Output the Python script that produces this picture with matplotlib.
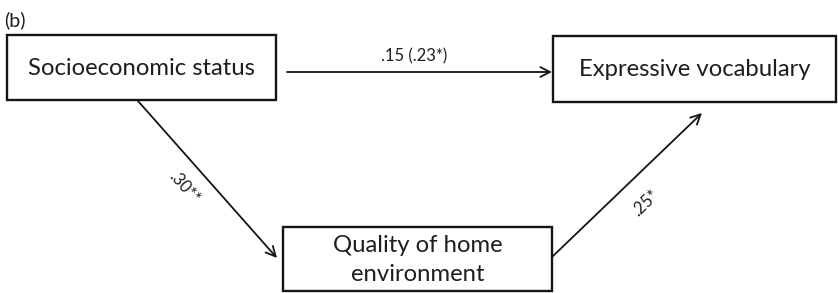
import matplotlib.pyplot as plt
from matplotlib.patches import Rectangle, FancyArrowPatch

plt.rcParams['font.family'] = ['Lato', 'DejaVu Sans']

# path diagram content
panel_label = '(b)'
node_names = ['Socioeconomic status', 'Expressive vocabulary', 'Quality of home\nenvironment']
path_coefs = ['.15 (.23*)', '.30**', '.25*']

# box layout in pixels (x0, y0, x1, y1), y going down
boxes = {
    'ses': (7, 35, 276, 100),
    'ev': (553, 36, 836, 102),
    'qhe': (283, 227, 552, 291),
}


def draw_box(ax, rect, text, fs=17.2):
    x0, y0, x1, y1 = rect
    ax.add_patch(Rectangle((x0, y0), x1 - x0, y1 - y0, fill=False,
                           edgecolor='#151515', lw=1.7))
    ax.text((x0 + x1) / 2, (y0 + y1) / 2 + 1, text, ha='center', va='center',
            fontsize=fs, color='#1e1e1e', linespacing=1.45)


def draw_arrow(ax, start, end):
    arr = FancyArrowPatch(start, end, arrowstyle='->,head_length=7,head_width=3.5',
                          lw=1.3, color='#151515', shrinkA=0, shrinkB=0,
                          mutation_scale=1)
    ax.add_patch(arr)


def main():
    fig = plt.figure(figsize=(8.38, 2.93), dpi=100)
    ax = fig.add_axes([0, 0, 1, 1])
    ax.set_xlim(0, 838)
    ax.set_ylim(293, 0)
    ax.axis('off')

    ax.text(4, 20, panel_label, ha='left', va='center', fontsize=14, color='#1e1e1e')

    draw_box(ax, boxes['ses'], node_names[0])
    draw_box(ax, boxes['ev'], node_names[1])
    draw_box(ax, boxes['qhe'], node_names[2])

    # direct path
    draw_arrow(ax, (287, 72), (552, 72))
    ax.text(414, 56, path_coefs[0], ha='center', va='center', fontsize=12, color='#1e1e1e')

    # SES -> home environment
    draw_arrow(ax, (138, 101), (277, 258))
    ax.text(184, 188, path_coefs[1], ha='center', va='center', fontsize=12,
            color='#1e1e1e', rotation=-48.5, rotation_mode='anchor')

    # home environment -> vocabulary
    draw_arrow(ax, (552, 257), (702, 113))
    ax.text(645, 203, path_coefs[2], ha='center', va='center', fontsize=12,
            color='#1e1e1e', rotation=44, rotation_mode='anchor')

    fig.savefig('out.png', dpi=100)


if __name__ == '__main__':
    main()
